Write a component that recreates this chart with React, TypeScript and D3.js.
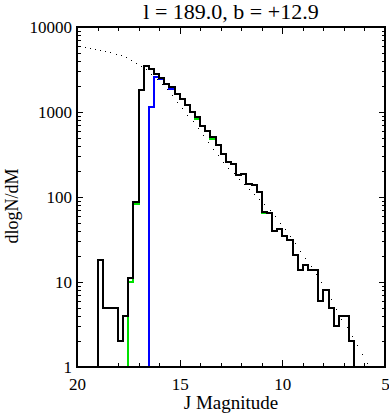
import React, { useEffect, useRef } from "react";
import * as d3 from "d3";

// histogram bins: 0.25 mag wide, first bin starts (faint edge) at J = 19.0
const binStart = 19.0;
const binWidth = 0.25;

const blackCounts = [
  18, 5, 5, 5, 2, 4, 11, 87, 1815, 3477, 3180, 2780, 2490, 2117, 1950, 1628,
  1433, 1208, 991, 865, 684, 600, 502, 408, 320, 255, 243, 181, 186, 142, 137,
  114, 67, 64, 40, 42, 35, 31, 21, 14, 16, 14, 14, 6, 8, 5, 3, 4, 4, 2,
];
const greenCounts = [
  0, 0, 0, 0, 0, 0, 10, 83, 1815, 3477, 3180, 2780, 2490, 2117, 1950, 1628,
  1433, 1208, 991, 835, 684, 600, 482, 408, 320, 255, 243, 181, 186, 142, 137,
  114, 64, 64, 40, 42, 35, 31, 21, 14, 16, 14, 14, 6, 8, 5, 3, 4, 4, 2,
];
const blueCounts = [
  0, 0, 0, 0, 0, 0, 0, 0, 0, 0, 1136, 2560, 2470, 2117, 1890, 1628,
  1433, 1208, 991, 865, 684, 600, 502, 408, 320, 255, 243, 181, 186, 142, 137,
  114, 67, 64, 40, 42, 35, 31, 21, 14, 16, 14, 14, 6, 8, 5, 3, 4, 4, 2,
];

// dotted model curve
const modelMag = [
  19.875, 19.625, 19.375, 19.125, 18.875, 18.625, 18.375, 18.125, 17.875,
  17.625, 17.375, 17.125, 16.875, 16.625, 16.375, 16.125, 15.875, 15.625,
  15.375, 15.125, 14.875, 14.625, 14.375, 14.125, 13.875, 13.625, 13.375,
  13.125, 12.875, 12.625, 12.375, 12.125, 11.875, 11.625, 11.375, 11.125,
  10.875, 10.625, 10.375, 10.125, 9.875, 9.625, 9.375, 9.125, 8.875, 8.625,
  8.375, 8.125, 7.875, 7.625, 7.375, 7.125, 6.875, 6.625, 6.375, 6.125, 5.875,
];
const modelValue = [
  5920, 5780, 5650, 5520, 5400, 5220, 5050, 4875, 4690, 4415, 4090, 3760, 3470,
  3200, 2820, 2455, 2140, 1850, 1585, 1320, 1107, 933, 783, 646, 532, 440, 367,
  309, 260, 221, 191, 164, 143, 124, 108, 94, 82, 71, 60, 50, 42, 35, 28.5,
  23.2, 19.3, 15.5, 12.4, 9.9, 8.05, 6.25, 4.78, 3.72, 2.95, 2.29, 1.83, 1.41,
  1.1,
];

const xMajor = [20, 15, 10, 5];
const xMinor = [19, 18, 17, 16, 14, 13, 12, 11, 9, 8, 7, 6];
const yMajor = [1, 10, 100, 1000, 10000];

const W = 389;
const H = 414;
const margin = { top: 27, right: 4, bottom: 47, left: 77 };
const font = "'Liberation Serif', 'DejaVu Serif', serif";

export default function App() {
  const svgRef = useRef<SVGSVGElement>(null);

  useEffect(() => {
    const width = W - margin.left - margin.right;
    const height = H - margin.top - margin.bottom;

    const svg = d3.select(svgRef.current);
    svg.selectAll("*").remove();

    svg.append("rect").attr("width", W).attr("height", H).attr("fill", "#fff");

    const chart = svg
      .append("g")
      .attr("transform", `translate(${margin.left},${margin.top})`)
      .attr("shape-rendering", "crispEdges");

    const x = d3.scaleLinear().domain([20, 5]).range([0, width]);
    const y = d3.scaleLog().domain([1, 10000]).range([height, 0]);
    const yv = (v: number) => (v >= 1 ? y(v) : y(1));

    // minor log ticks
    const yMinor: number[] = [];
    [1, 10, 100, 1000].forEach((d) => {
      for (let k = 2; k <= 9; k++) yMinor.push(d * k);
    });

    const styleAxis = (g: any) => {
      g.select(".domain").remove();
      g.selectAll("line").attr("stroke", "#000").attr("stroke-width", 1);
      g.selectAll("text")
        .attr("font-family", font)
        .attr("font-size", 17)
        .attr("fill", "#000");
    };

    // bottom axis
    chart
      .append("g")
      .attr("transform", `translate(0,${height})`)
      .call(d3.axisBottom(x).tickValues(xMajor).tickSize(-7).tickPadding(11).tickFormat(d3.format("d")))
      .call(styleAxis);
    chart
      .append("g")
      .attr("transform", `translate(0,${height})`)
      .call(d3.axisBottom(x).tickValues(xMinor).tickSize(-4).tickFormat(() => ""))
      .call(styleAxis);
    // top axis
    chart
      .append("g")
      .call(d3.axisTop(x).tickValues(xMajor).tickSize(-7).tickFormat(() => ""))
      .call(styleAxis);
    chart
      .append("g")
      .call(d3.axisTop(x).tickValues(xMinor).tickSize(-4).tickFormat(() => ""))
      .call(styleAxis);
    // left axis
    chart
      .append("g")
      .call(d3.axisLeft(y).tickValues(yMajor).tickSize(-6).tickPadding(5).tickFormat(d3.format("d")))
      .call(styleAxis);
    chart
      .append("g")
      .call(d3.axisLeft(y).tickValues(yMinor).tickSize(-3.5).tickFormat(() => ""))
      .call(styleAxis);
    // right axis
    chart
      .append("g")
      .attr("transform", `translate(${width},0)`)
      .call(d3.axisRight(y).tickValues(yMajor).tickSize(-6).tickFormat(() => ""))
      .call(styleAxis);
    chart
      .append("g")
      .attr("transform", `translate(${width},0)`)
      .call(d3.axisRight(y).tickValues(yMinor).tickSize(-3.5).tickFormat(() => ""))
      .call(styleAxis);

    // model dots
    chart
      .append("g")
      .selectAll("rect")
      .data(modelMag.map((m, i) => [m, modelValue[i]]))
      .join("rect")
      .attr("x", (d) => Math.round(x(d[0])))
      .attr("y", (d) => Math.round(y(d[1])))
      .attr("width", 1)
      .attr("height", 1)
      .attr("fill", "#000");

    // step histograms
    const line = d3
      .line<number[]>()
      .x((d) => Math.round(x(d[0])))
      .y((d) => Math.round(yv(d[1])));

    const steps = (counts: number[]) => {
      const pts: number[][] = [[20, 0], [binStart, 0]];
      counts.forEach((c, i) => {
        const a = binStart - i * binWidth;
        pts.push([a, c], [a - binWidth, c]);
      });
      const end = binStart - counts.length * binWidth;
      pts.push([end, 0], [5, 0]);
      return pts;
    };

    [
      { counts: blueCounts, color: "#0000ff" },
      { counts: greenCounts, color: "#00e000" },
      { counts: blackCounts, color: "#000" },
    ].forEach((s) => {
      chart
        .append("path")
        .attr("d", line(steps(s.counts)))
        .attr("fill", "none")
        .attr("stroke", s.color)
        .attr("stroke-width", 2);
    });

    // frame
    chart
      .append("rect")
      .attr("width", width)
      .attr("height", height)
      .attr("fill", "none")
      .attr("stroke", "#000")
      .attr("stroke-width", 1.5);

    // title and labels
    svg
      .append("text")
      .attr("x", margin.left + width / 2)
      .attr("y", 19)
      .attr("text-anchor", "middle")
      .attr("font-family", font)
      .attr("font-size", 22)
      .text("l = 189.0, b = +12.9");

    svg
      .append("text")
      .attr("x", margin.left + width / 2)
      .attr("y", 409)
      .attr("text-anchor", "middle")
      .attr("font-family", font)
      .attr("font-size", 19)
      .text("J Magnitude");

    svg
      .append("text")
      .attr("transform", `translate(18,${206}) rotate(-90)`)
      .attr("text-anchor", "middle")
      .attr("font-family", font)
      .attr("font-size", 18)
      .text("dlogN/dM");
  }, []);

  return (
    <svg
      ref={svgRef}
      width={W}
      height={H}
      style={{ position: "absolute", left: 0, top: 0, display: "block" }}
    ></svg>
  );
}
